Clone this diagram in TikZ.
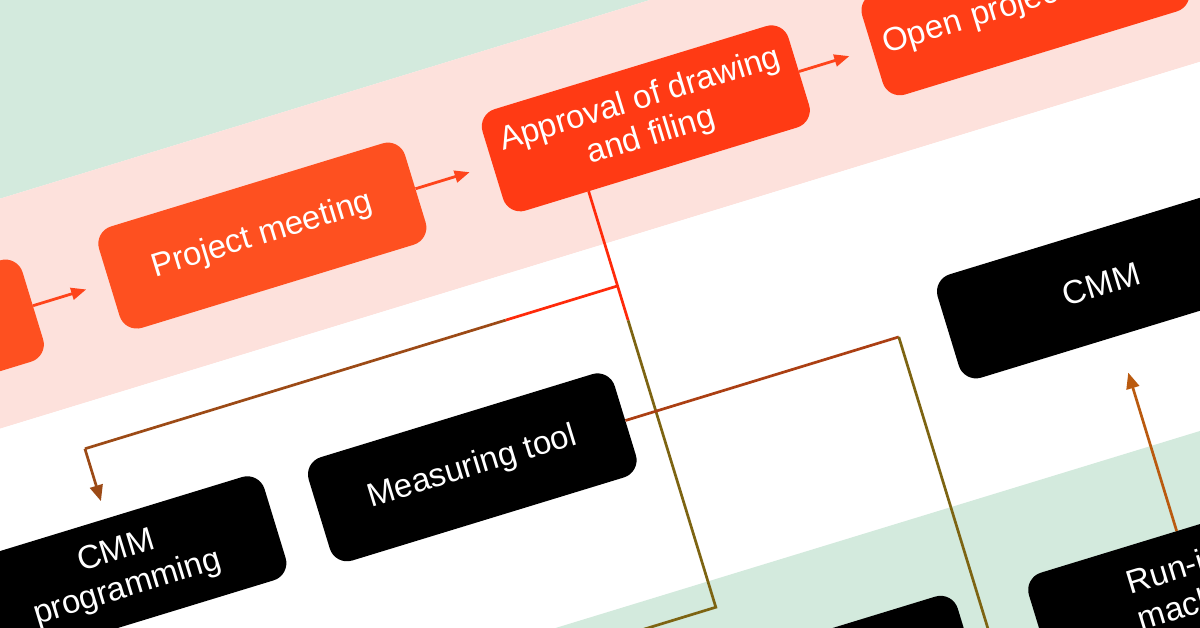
\documentclass[tikz,border=0pt]{standalone}
\usepackage{fontspec}
\setmainfont{Liberation Sans}
\usetikzlibrary{arrows.meta}

\definecolor{mint}{HTML}{D3EADD}
\definecolor{blush}{HTML}{FDE1DC}
\definecolor{flame}{HTML}{FE5020}
\definecolor{flamedeep}{HTML}{FF3A14}
\definecolor{linkred}{HTML}{FF2A0A}
\definecolor{linkbrown}{HTML}{9C4A16}
\definecolor{linkolive}{HTML}{7D6412}

\tikzset{
  flowbox/.style={fill=flame, rounded corners=18pt, minimum width=320pt, minimum height=106pt,
    inner sep=0pt, text=white, align=center, font=\fontsize{33}{38}\selectfont},
  darkbox/.style={flowbox, fill=black, minimum height=108pt},
  flowarrow/.style={draw=flame!85!red, line width=2.8pt, shorten >=24pt, -{Triangle[length=15pt,width=12pt]}},
  wire/.style={line width=2.7pt},
  wiretip/.style={-{Triangle[length=16pt,width=13pt]}}
}

\begin{document}
\begin{tikzpicture}[x=1pt,y=1pt]
\useasboundingbox (0,0) rectangle (1200,-628);
\clip (0,0) rectangle (1200,-628);

\begin{scope}[rotate=17, transform shape]
	% bands
	\fill[mint] (-400,-190) rectangle (1500,200);
	\fill[blush] (-400,-410) rectangle (1500,-190);
	\fill[white] (-400,-763) rectangle (1500,-410);
	\fill[mint] (-400,-1200) rectangle (1500,-763);

	% upper row
	\node[flowbox] (start) at (-218,-302) {};
	\node[flowbox] (meet) at (182,-302) {Project meeting};
	\node[flowbox, fill=flamedeep] (appr) at (583,-302) {Approval of drawing\\and filing};
	\node[flowbox, fill=flamedeep!80!flame, text width=296pt, align=left] (open) at (980,-302) {Open project};

	\draw[flowarrow] (start) -- (meet);
	\draw[flowarrow] (meet) -- (appr);
	\draw[flowarrow] (appr) -- (open);

	% lower rows
	\node[darkbox] (cmmprog) at (-50,-581) {CMM\\programming};
	\node[darkbox] (meas) at (315,-585) {Measuring tool};
	\node[darkbox] (cmm) at (970,-594) {CMM};
	\node[darkbox] (lower) at (578,-898) {};
	\node[darkbox, align=left] (runin) at (970,-906) {Run-in\\machine};

	% connectors
	\coordinate (apprfoot) at (507,-355);
	\coordinate (split) at (507,-454);
	\coordinate (redend) at (507,-490);
	\coordinate (turn) at (507,-790);
	\coordinate (offleft) at (360,-790);
	\coordinate (fade) at (390,-454);
	\coordinate (bend) at (-50,-454);
	\coordinate (measturn) at (761,-585);
	\coordinate (measdown) at (761,-1000);

	\draw[wire, linkred] (apprfoot) -- (redend);
	\draw[wire, linkolive] (redend) -- (turn) -- (offleft);
	\draw[wire, linkred] (split) -- (fade);
	\draw[wire, linkbrown] (fade) -- (bend);
	\draw[wire, wiretip, linkbrown, shorten >=18pt] (bend) -- (cmmprog);

	\draw[wire, linkbrown!85!red] (meas.east) -- (measturn);
	\draw[wire, linkolive] (measturn) -- (measdown);

	\draw[wire, wiretip, linkbrown!70!orange, shorten >=38pt] (runin) -- (cmm);
\end{scope}
\end{tikzpicture}
\end{document}
